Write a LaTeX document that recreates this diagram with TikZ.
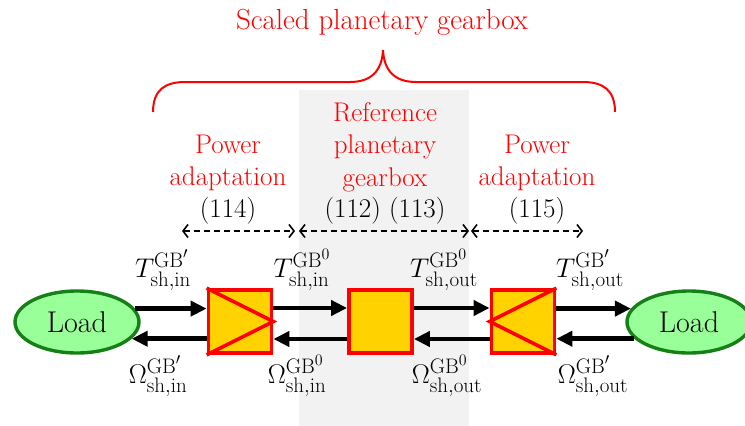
\RequirePackage{fix-cm}
\documentclass[tikz,border=0pt]{standalone}
\usepackage{amsmath}
\usepackage{fontspec}
\usetikzlibrary{arrows.meta,shapes.geometric,calc}
\DeclareMathSizes{27}{27}{21}{16}
\definecolor{gold}{HTML}{FFD200}
\definecolor{loadfill}{HTML}{99FF99}
\definecolor{loaddraw}{HTML}{158015}
\definecolor{bgshade}{HTML}{F2F2F2}
\begin{document}
\begin{tikzpicture}[x=1pt,y=-1pt,
  lab/.style={font=\fontsize{27}{32.5}\selectfont,align=center,inner sep=0pt},
  redlab/.style={lab,text=red},
  mlab/.style={font=\fontsize{27}{30}\selectfont,inner sep=0pt},
  loadnode/.style={ellipse,draw=loaddraw,fill=loadfill,line width=3.4pt,minimum width=124pt,minimum height=62pt,inner sep=0pt,font=\fontsize{30}{32}\selectfont},
  gbox/.style={rectangle,draw=red,fill=gold,line width=3.8pt,minimum size=63pt,inner sep=0pt},
  flow/.style={line width=4.5pt,-{Triangle[length=16pt,width=15pt]}},
  spanarrow/.style={line width=1.6pt,dash pattern=on 6pt off 4pt,{Straight Barb[length=5pt,width=13pt,line width=1.6pt]}-{Straight Barb[length=5pt,width=13pt,line width=1.6pt]}},
  bracepath/.style={draw=red,line width=2pt}]
\useasboundingbox (0,0) rectangle (745,426);
\fill[bgshade] (299,90) rectangle (469,426);

% title and brace
\node[redlab,font=\fontsize{29}{32}\selectfont] (title) at (382,22) {Scaled planetary gearbox};
\draw[bracepath] (153,112) .. controls (153,90) and (165,82) .. (185,82) -- (350,82)
  .. controls (372,82) and (382,70) .. (383,50)
  .. controls (384,70) and (394,82) .. (416,82) -- (583,82)
  .. controls (603,82) and (615,90) .. (615,112);

% section labels
\node[redlab] (padl) at (228,163) {Power\\adaptation};
\node[redlab] (ref) at (385,147) {Reference\\planetary\\gearbox};
\node[redlab] (padr) at (537,163) {Power\\adaptation};
\node[lab] (e114) at (228,211) {(114)};
\node[lab] (e112) at (385,211) {(112) (113)};
\node[lab] (e115) at (537,211) {(115)};

% dashed ranges
\coordinate (d0) at (182,231);
\coordinate (d1) at (295,231);
\coordinate (d2) at (299,231);
\coordinate (d3) at (469,231);
\coordinate (d4) at (471,231);
\coordinate (d5) at (583,231);
\draw[spanarrow] (d0) -- (d1);
\draw[spanarrow] (d2) -- (d3);
\draw[spanarrow] (d4) -- (d5);

% chain
\node[loadnode] (loadl) at (77,322) {Load};
\node[gbox] (b1) at (240,321.5) {};
\node[gbox] (b2) at (380.5,321.5) {};
\node[gbox] (b3) at (523,321.5) {};
\node[loadnode] (loadr) at (689,322) {Load};

\draw[red,line width=3.5pt,line join=miter] (b1.north west) -- (b1.east) -- (b1.south west);
\draw[red,line width=3.5pt,line join=miter] (b3.north east) -- (b3.west) -- (b3.south east);

\draw[flow] (loadl.13) -- (loadl.13 -| b1.west);
\draw[flow] (b1.west |- loadl.-17) -- (loadl.-17);
\draw[flow] ([yshift=13.5pt]b1.east) -- ([yshift=13.5pt]b2.west);
\draw[flow] ([yshift=-17.5pt]b2.west) -- ([yshift=-17.5pt]b1.east);
\draw[flow] ([yshift=13.5pt]b2.east) -- ([yshift=13.5pt]b3.west);
\draw[flow] ([yshift=-17.5pt]b3.west) -- ([yshift=-17.5pt]b2.east);
\draw[flow] (b3.east |- loadr.167) -- (loadr.167);
\draw[flow] (loadr.-163) -- (loadr.-163 -| b3.east);

% variable labels
\node[mlab] (t1) at (163,270) {$T^{\mathrm{GB}'}_{\mathrm{sh,in}}$};
\node[mlab] (t2) at (302,270) {$T^{\mathrm{GB}^{0}}_{\mathrm{sh,in}}$};
\node[mlab] (t3) at (444,270) {$T^{\mathrm{GB}^{0}}_{\mathrm{sh,out}}$};
\node[mlab] (t4) at (590,270) {$T^{\mathrm{GB}'}_{\mathrm{sh,out}}$};
\node[mlab] (w1) at (158,376) {$\Omega^{\mathrm{GB}'}_{\mathrm{sh,in}}$};
\node[mlab] (w2) at (297,376) {$\Omega^{\mathrm{GB}^{0}}_{\mathrm{sh,in}}$};
\node[mlab] (w3) at (447,376) {$\Omega^{\mathrm{GB}^{0}}_{\mathrm{sh,out}}$};
\node[mlab] (w4) at (593,376) {$\Omega^{\mathrm{GB}'}_{\mathrm{sh,out}}$};
\end{tikzpicture}
\end{document}
